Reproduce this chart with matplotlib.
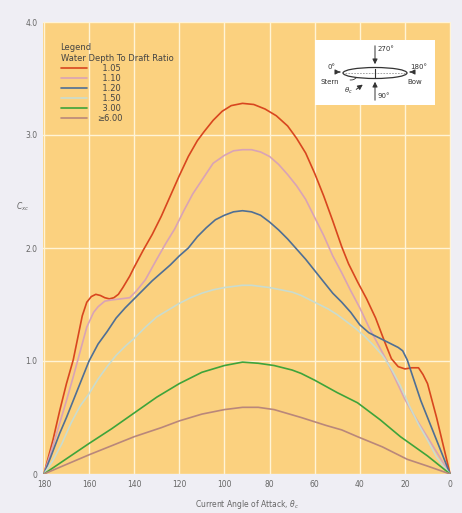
import matplotlib
matplotlib.use('Agg')
import matplotlib.pyplot as plt
from matplotlib.patches import Ellipse, Arc

# (angle in degrees, coefficient C_xc)
ang_105 = [180, 176, 173, 170, 167, 163, 161, 159, 157, 155, 153, 151, 149, 147, 145, 142, 140, 136, 132, 128,
           124, 120, 116, 112, 109, 105, 101, 97, 92, 87, 82, 77, 72, 68, 64, 60, 56, 52, 48, 45, 41, 37, 33, 29,
           26, 23, 20, 17, 14, 12, 10, 8, 6, 3, 0]
c_105 = [0, 0.30, 0.56, 0.80, 1.01, 1.40, 1.52, 1.57, 1.59, 1.58, 1.56, 1.55, 1.56, 1.59, 1.65, 1.75, 1.83, 1.98,
         2.12, 2.28, 2.46, 2.64, 2.81, 2.95, 3.03, 3.13, 3.21, 3.26, 3.28, 3.27, 3.23, 3.17, 3.08, 2.97, 2.84, 2.66,
         2.46, 2.24, 2.01, 1.86, 1.70, 1.55, 1.38, 1.17, 1.02, 0.95, 0.93, 0.94, 0.94, 0.88, 0.80, 0.65, 0.50, 0.25,
         0]

ang_110 = [180, 176, 173, 170, 167, 164, 161, 158, 156, 153, 150, 146, 142, 139, 135, 130, 126, 122, 118, 114,
           110, 105, 100, 96, 92, 88, 84, 80, 76, 72, 68, 64, 60, 56, 52, 48, 44, 40, 36, 32, 28, 24, 20, 16, 12,
           8, 4, 0]
c_110 = [0, 0.25, 0.45, 0.65, 0.86, 1.08, 1.30, 1.43, 1.48, 1.53, 1.54, 1.55, 1.56, 1.62, 1.72, 1.90, 2.04, 2.17,
         2.33, 2.48, 2.60, 2.75, 2.82, 2.86, 2.87, 2.87, 2.85, 2.81, 2.74, 2.65, 2.55, 2.43, 2.27, 2.11, 1.93, 1.78,
         1.62, 1.47, 1.30, 1.15, 1.00, 0.83, 0.66, 0.52, 0.39, 0.26, 0.13, 0]

ang_120 = [180, 177, 173, 170, 167, 163, 160, 156, 152, 148, 144, 140, 136, 132, 128, 124, 120, 116, 112, 108,
           104, 100, 96, 92, 88, 84, 80, 76, 72, 68, 64, 60, 56, 52, 48, 44, 40, 36, 32, 29, 26, 23, 21, 19, 16,
           13, 9, 6, 3, 0]
c_120 = [0, 0.15, 0.36, 0.50, 0.65, 0.85, 1.00, 1.15, 1.26, 1.38, 1.47, 1.55, 1.63, 1.71, 1.78, 1.85, 1.93, 2.00,
         2.10, 2.18, 2.25, 2.29, 2.32, 2.33, 2.32, 2.29, 2.23, 2.16, 2.08, 1.99, 1.90, 1.80, 1.70, 1.60, 1.52, 1.43,
         1.32, 1.25, 1.21, 1.18, 1.15, 1.12, 1.09, 1.01, 0.83, 0.65, 0.45, 0.30, 0.15, 0]

ang_150 = [180, 176, 172, 168, 164, 160, 156, 152, 148, 144, 140, 135, 130, 125, 120, 115, 110, 105, 100, 96, 92,
           88, 84, 80, 75, 70, 66, 62, 58, 54, 50, 46, 42, 38, 34, 30, 26, 22, 18, 14, 10, 6, 3, 0]
c_150 = [0, 0.12, 0.27, 0.45, 0.60, 0.71, 0.84, 0.95, 1.05, 1.13, 1.20, 1.30, 1.39, 1.45, 1.51, 1.56, 1.60, 1.63,
         1.65, 1.66, 1.67, 1.67, 1.66, 1.65, 1.63, 1.61, 1.58, 1.54, 1.50, 1.46, 1.41, 1.35, 1.29, 1.22, 1.14, 1.05,
         0.93, 0.78, 0.60, 0.44, 0.30, 0.15, 0.07, 0]

ang_300 = [180, 160, 150, 140, 130, 120, 110, 100, 92, 85, 78, 70, 66, 60, 50, 41, 31, 22, 10, 0]
c_300 = [0, 0.27, 0.40, 0.54, 0.68, 0.80, 0.90, 0.96, 0.99, 0.98, 0.96, 0.92, 0.89, 0.83, 0.72, 0.63, 0.48, 0.33,
         0.16, 0]

ang_600 = [180, 160, 140, 128, 120, 110, 100, 92, 85, 78, 66, 55, 48, 41, 30, 19, 10, 0]
c_600 = [0, 0.17, 0.33, 0.41, 0.47, 0.53, 0.57, 0.59, 0.59, 0.57, 0.50, 0.43, 0.39, 0.33, 0.24, 0.13, 0.07, 0]

series = [(ang_105, c_105, '#d8461f', '\u20071.05'),
          (ang_110, c_110, '#d9a3b6', '\u20071.10'),
          (ang_120, c_120, '#4f6f95', '\u20071.20'),
          (ang_150, c_150, '#c9dccf', '\u20071.50'),
          (ang_300, c_300, '#3ea43a', '\u20073.00'),
          (ang_600, c_600, '#b9877b', '\u22656.00')]

x_ticks = [180, 160, 140, 120, 100, 80, 60, 40, 20, 0]
y_ticks = [0, 1, 2, 3, 4]
y_ticklabels = ['0', '1.0', '2.0', '3.0', '4.0']

tc = '#666666'
fig = plt.figure(figsize=(4.62, 5.13), dpi=100, facecolor='#efeef4')
ax = fig.add_axes([43 / 462, 1 - 474 / 513, 408 / 462, 452 / 513])
ax.set_facecolor('#fbd17f')
for s in ax.spines.values():
    s.set_visible(False)

for a, c, col, lab in series:
    ax.plot(a, c, color=col, lw=1.2, label=lab, solid_capstyle='round', solid_joinstyle='round')

ax.set_xlim(180.4, -0.4)
ax.set_ylim(0, 4.0)
ax.set_xticks(x_ticks)
ax.set_yticks(y_ticks)
ax.set_yticklabels(y_ticklabels)
ax.grid(True, color='#fff4d6', lw=1.0)
ax.set_axisbelow(True)
ax.tick_params(length=0, labelsize=5.5, labelcolor=tc, pad=4)

ax.set_xlabel('Current Angle of Attack, $\\theta_c$', fontsize=5.5, color=tc, labelpad=7)
fig.text(16 / 462, 1 - 207 / 513, '$C_{xc}$', fontsize=5.5, color=tc, ha='left', va='center')

leg = ax.legend(title='Legend\nWater Depth To Draft Ratio', loc='upper left', bbox_to_anchor=(0.035, 0.96),
                frameon=False, fontsize=6, title_fontsize=6, handlelength=3.2, handletextpad=1.2,
                labelspacing=0.12, alignment='left', borderaxespad=0)
for t in leg.get_texts():
    t.set_color('#444444')
leg.get_title().set_color('#444444')

# inset sketch of the ship and angle convention
ins = fig.add_axes([315 / 462, 1 - 105 / 513, 120 / 462, 65 / 513])
ins.set_facecolor('white')
ins.set_xlim(0, 120)
ins.set_ylim(65, 0)
ins.set_xticks([])
ins.set_yticks([])
for s in ins.spines.values():
    s.set_visible(False)
k = '#333333'
ins.add_patch(Ellipse((60, 33), 64, 11, fill=False, ec=k, lw=0.9))
ins.plot([30, 90], [33, 33], ls=(0, (2, 1.5)), color='#999999', lw=0.6)
ins.plot([60, 60], [29, 37], color=k, lw=0.8)
arr = dict(arrowstyle='-|>,head_length=0.3,head_width=0.15', color=k, lw=0.7)
ins.annotate('', xy=(60, 27), xytext=(60, 3), arrowprops=arr)
ins.annotate('', xy=(60, 39), xytext=(60, 63), arrowprops=arr)
ins.annotate('', xy=(28, 32), xytext=(22, 32), arrowprops=arr)
ins.annotate('', xy=(92, 32), xytext=(98, 32), arrowprops=arr)
ins.annotate('', xy=(50, 43), xytext=(39, 51), arrowprops=arr)
ins.add_patch(Arc((36, 33), 14, 14, theta1=40, theta2=100, color=k, lw=0.6))
fs_in = 5
ins.text(63, 9, '270°', fontsize=fs_in, color=k, va='center')
ins.text(63, 56, '90°', fontsize=fs_in, color=k, va='center')
ins.text(17, 27, '0°', fontsize=fs_in, color=k, va='center', ha='center')
ins.text(104, 27, '180°', fontsize=fs_in, color=k, va='center', ha='center')
ins.text(15, 42, 'Stern', fontsize=fs_in, color=k, va='center', ha='center')
ins.text(100, 42, 'Bow', fontsize=fs_in, color=k, va='center', ha='center')
ins.text(33, 51, '$\\theta_c$', fontsize=fs_in, color=k, va='center', ha='center')

fig.savefig('out.png', dpi=100, facecolor=fig.get_facecolor())
